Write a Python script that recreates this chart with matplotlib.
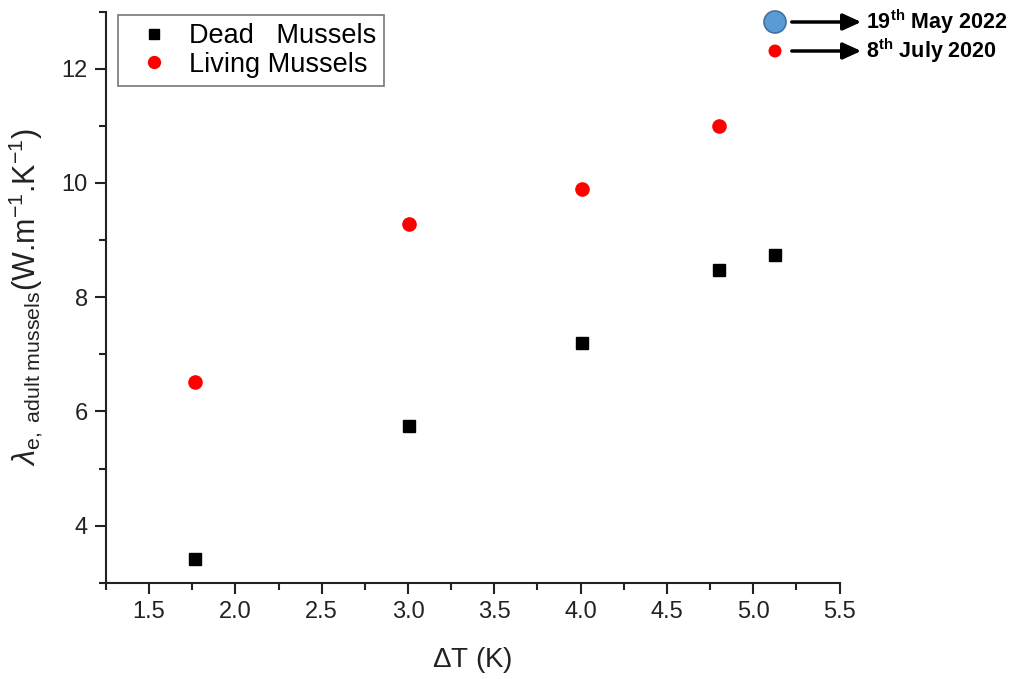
import matplotlib
matplotlib.use("Agg")
import matplotlib.pyplot as plt
from matplotlib.ticker import MultipleLocator

plt.rcParams['font.family'] = ['Liberation Sans', 'DejaVu Sans']
plt.rcParams['mathtext.fontset'] = 'custom'
plt.rcParams['mathtext.rm'] = 'Liberation Sans'
plt.rcParams['mathtext.it'] = 'Liberation Sans:italic'
plt.rcParams['mathtext.bf'] = 'Liberation Sans:bold'

dead_x = [1.765, 3.005, 4.008, 4.80, 5.125]
dead_y = [3.42, 5.74, 7.19, 8.48, 8.74]
living_x = [1.765, 3.005, 4.008, 4.80]
living_y = [6.51, 9.28, 9.89, 10.99]

fig = plt.figure(figsize=(10.17, 6.79), dpi=100)
ax = fig.add_axes([0.1042, 0.1418, 0.7213, 0.8410])

ax.plot(dead_x, dead_y, 's', color='black', markersize=8.5, linestyle='none',
        label='Dead   Mussels')
ax.plot(living_x, living_y, 'o', color='red', markersize=9.5, linestyle='none',
        label='Living Mussels')

ax.set_xlim(1.25, 5.5)
ax.set_ylim(3, 13)
ax.xaxis.set_minor_locator(MultipleLocator(0.25))
ax.yaxis.set_minor_locator(MultipleLocator(1))
ax.set_xticks([1.5, 2.0, 2.5, 3.0, 3.5, 4.0, 4.5, 5.0, 5.5])
ax.set_xticklabels(['1.5', '2.0', '2.5', '3.0', '3.5', '4.0', '4.5', '5.0', '5.5'])
ax.set_yticks([4, 6, 8, 10, 12])

for s in ['top', 'right']:
    ax.spines[s].set_visible(False)
for s in ['left', 'bottom']:
    ax.spines[s].set_linewidth(1.5)
    ax.spines[s].set_color('#222222')

ax.tick_params(which='major', direction='out', length=8, width=1.5,
               labelsize=17, colors='#222222', pad=5)
ax.tick_params(which='minor', direction='out', length=5, width=1.5, colors='#222222')

ax.set_xlabel(r'$\Delta$T (K)', fontsize=20, labelpad=16, color='#222222')
ax.set_ylabel(r'$\lambda_{\mathrm{e,\ adult\ mussels}}$(W.m$^{-1}$.K$^{-1}$)',
              fontsize=22, labelpad=12, color='#222222')

leg = ax.legend(loc='upper left', bbox_to_anchor=(0.016, 0.994), fontsize=19.5,
                frameon=True, fancybox=False, edgecolor='#555555',
                handletextpad=0.27, borderpad=0.3, labelspacing=0.1,
                handlelength=2.05, markerscale=0.9, borderaxespad=0)
leg.get_frame().set_linewidth(1.2)

# Top-right annotation
fig.patches.append(plt.Circle((7.75, 6.79 - 0.22), 0.11, transform=fig.dpi_scale_trans,
                              facecolor='#5b9bd5', edgecolor='#41719c', linewidth=1.2))
fig.patches.append(plt.Circle((7.75, 6.79 - 0.51), 0.065, transform=fig.dpi_scale_trans,
                              facecolor='red', edgecolor='none'))
for ypix in (22, 51):
    yf = 1 - ypix / 679
    fig.add_artist(matplotlib.patches.FancyArrowPatch(
        (789 / 1017, yf), (864 / 1017, yf), transform=fig.transFigure,
        arrowstyle='-|>,head_length=11,head_width=5', color='black',
        linewidth=2.5, mutation_scale=1))
fig.text(866 / 1017, 1 - 22 / 679, r'$\mathbf{19^{th}\ May\ 2022}$', fontsize=15.5,
         va='center', ha='left')
fig.text(866 / 1017, 1 - 51 / 679, r'$\mathbf{8^{th}\ July\ 2020}$', fontsize=15.5,
         va='center', ha='left')

fig.savefig('out.png', dpi=100)
